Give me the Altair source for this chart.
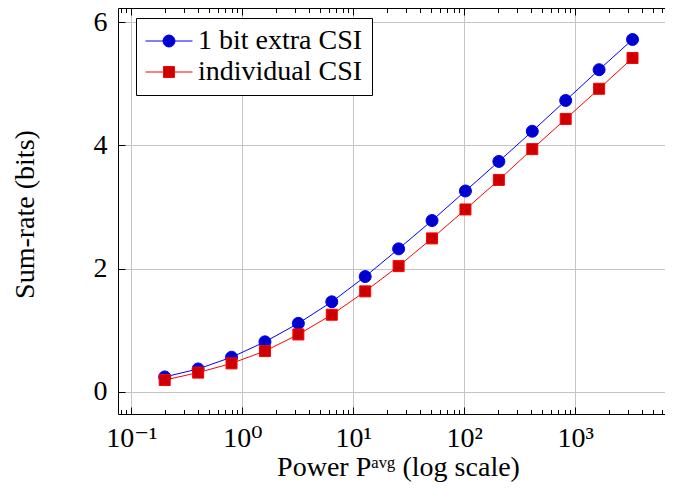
import altair as alt
import pandas as pd

# ---- data ----
power = [0.2, 0.4, 0.8, 1.6, 3.2, 6.4, 12.8, 25.6, 51.2, 102.4, 204.8, 409.6, 819.2, 1638.4, 3276.8]
rate_extra = [0.24, 0.37, 0.56, 0.81, 1.11, 1.46, 1.87, 2.32, 2.78, 3.26, 3.74, 4.23, 4.73, 5.23, 5.72]
rate_indiv = [0.19, 0.31, 0.46, 0.66, 0.93, 1.25, 1.63, 2.04, 2.49, 2.96, 3.44, 3.94, 4.43, 4.92, 5.42]
series_names = ["1 bit extra CSI", "individual CSI"]

major_x = [0.1, 1, 10, 100, 1000]
minor_mult = [2, 3, 4, 5, 6, 7, 8, 9]
minor_decades = [0.01, 0.1, 1, 10, 100, 1000]
y_ticks = [0, 2, 4, 6]

X_DOMAIN = [0.0759, 7432]
Y_DOMAIN = [-0.362, 6.232]

minor_x = [m * d for d in minor_decades for m in minor_mult if X_DOMAIN[0] <= m * d <= X_DOMAIN[1]]

df = pd.DataFrame({
    "x": power + power,
    "y": rate_extra + rate_indiv,
    "series": [series_names[0]] * len(power) + [series_names[1]] * len(power),
})

F = "Liberation Serif, DejaVu Serif, serif"
FS = 28
GRID = "#c4c4c4"

xs = alt.Scale(type="log", domain=X_DOMAIN, nice=False)
ys = alt.Scale(domain=Y_DOMAIN, nice=False, zero=False)

ax_x_main = alt.Axis(orient="bottom", values=major_x,
                     labelExpr="'10' + ['⁻¹','⁰','¹','²','³'][round(log(datum.value)/LN10)+1]",
                     grid=True, gridColor=GRID, gridWidth=1, ticks=False,
                     domain=True, domainColor="black", domainWidth=1,
                     labelFont=F, labelFontSize=FS, labelColor="black", labelPadding=10,
                     labelFlush=False, labelOverlap=False,
                     title="Power Pᵃᵛᵍ (log scale)", titleFont=F, titleFontSize=FS,
                     titleFontWeight="normal", titleColor="black",
                     titleX=280, titleY=61, titleAlign="center", titleBaseline="alphabetic",
                     zindex=0)
ax_x_major_b = alt.Axis(orient="bottom", values=major_x, labels=False, domain=False, grid=False,
                        ticks=True, tickSize=7, tickColor="black", tickWidth=1, offset=-7,
                        title=None, zindex=1)
ax_x_minor_b = alt.Axis(orient="bottom", values=minor_x, labels=False, domain=False, grid=False,
                        ticks=True, tickSize=4.5, tickColor="black", tickWidth=1, offset=-4.5,
                        title=None, zindex=1)
ax_x_top = alt.Axis(orient="top", labels=False, domain=True, domainColor="black", domainWidth=1,
                    grid=False, ticks=False, title=None, zindex=1)
ax_x_major_t = alt.Axis(orient="top", values=major_x, labels=False, domain=False, grid=False,
                        ticks=True, tickSize=7, tickColor="black", tickWidth=1, offset=-7,
                        title=None, zindex=1)
ax_x_minor_t = alt.Axis(orient="top", values=minor_x, labels=False, domain=False, grid=False,
                        ticks=True, tickSize=4.5, tickColor="black", tickWidth=1, offset=-4.5,
                        title=None, zindex=1)

ax_y_main = alt.Axis(orient="left", values=y_ticks, grid=True, gridColor=GRID, gridWidth=1,
                     ticks=False, domain=True, domainColor="black", domainWidth=1,
                     labelFont=F, labelFontSize=FS, labelColor="black", labelPadding=11,
                     labelFlush=False,
                     title="Sum-rate (bits)", titleFont=F, titleFontSize=FS,
                     titleFontWeight="normal", titleColor="black",
                     titleX=-85, titleY=206, titleAngle=270, titleAlign="center",
                     titleBaseline="alphabetic", zindex=0)
ax_y_ticks_l = alt.Axis(orient="left", values=y_ticks, labels=False, domain=False, grid=False,
                        ticks=True, tickSize=7, tickColor="black", tickWidth=1, offset=-7,
                        title=None, zindex=1)
ax_y_ticks_r = alt.Axis(orient="right", values=y_ticks, labels=False, domain=False, grid=False,
                        ticks=True, tickSize=7, tickColor="black", tickWidth=1, offset=-7,
                        title=None, zindex=1)

base = alt.Chart(df)
is_a = alt.datum.series == series_names[0]
is_b = alt.datum.series == series_names[1]

line_a = base.transform_filter(is_a).mark_line(color="#0000ff", strokeWidth=1).encode(
    x=alt.X("x:Q", scale=xs, axis=ax_x_main),
    y=alt.Y("y:Q", scale=ys, axis=ax_y_main),
)
pts_a = base.transform_filter(is_a).mark_circle(size=144, color="#0000cc", stroke="#0000ff",
                                                strokeWidth=1, opacity=1).encode(
    x=alt.X("x:Q", scale=xs, axis=ax_x_major_b),
    y=alt.Y("y:Q", scale=ys, axis=ax_y_ticks_l),
)
line_b = base.transform_filter(is_b).mark_line(color="#ff0000", strokeWidth=1).encode(
    x=alt.X("x:Q", scale=xs, axis=ax_x_minor_b),
    y=alt.Y("y:Q", scale=ys, axis=ax_y_ticks_r),
)
pts_b = base.transform_filter(is_b).mark_square(size=121, color="#cc0000", stroke="#ff0000",
                                                strokeWidth=1, opacity=1).encode(
    x=alt.X("x:Q", scale=xs, axis=ax_x_top),
    y=alt.Y("y:Q", scale=ys, axis=None),
)

# legend: line + marker symbols
circ_path = ("M-1,0H-0.255M0.255,0H1M-0.255,0A0.255,0.255,0,1,1,0.255,0"
             "A0.255,0.255,0,1,1,-0.255,0Z")
sq_path = "M-1,0H-0.234M0.234,0H1M-0.234,-0.234H0.234V0.234H-0.234Z"

leg = alt.Legend(orient="none", legendX=18, legendY=10, title=None, padding=9,
                 strokeColor="black", fillColor="white", cornerRadius=0,
                 labelFont=F, labelFontSize=FS, labelColor="black", labelLimit=400,
                 labelExpr="datum.label + '\u00a0\u00a0\u00a0\u2009'",
                 labelOffset=5, symbolSize=2209, symbolStrokeWidth=1,
                 clipHeight=28, rowPadding=3, symbolOffset=0, offset=0)

legend_layer = base.transform_filter("datum.x < 0").mark_point(
    filled=True, strokeWidth=1, opacity=1).encode(
    x=alt.X("x:Q", scale=xs, axis=ax_x_major_t),
    y=alt.Y("y:Q", scale=ys, axis=None),
    fill=alt.Fill("series:N", scale=alt.Scale(domain=series_names, range=["#0000cc", "#cc0000"]), legend=leg),
    stroke=alt.Stroke("series:N", scale=alt.Scale(domain=series_names, range=["#0000ff", "#ff0000"]), legend=leg),
    shape=alt.Shape("series:N", scale=alt.Scale(domain=series_names, range=[circ_path, sq_path]), legend=leg),
)

dummy = base.transform_filter("datum.x < 0").mark_point(opacity=0).encode(
    x=alt.X("x:Q", scale=xs, axis=ax_x_minor_t),
    y=alt.Y("y:Q", scale=ys, axis=None),
)

chart = alt.layer(line_a, pts_a, line_b, pts_b, legend_layer, dummy).resolve_axis(
    x="independent", y="independent"
).properties(
    width=554, height=406,
    padding={"left": 110, "top": 0, "right": -7, "bottom": 72},
    autosize=alt.AutoSizeParams(type="none"),
    background="white",
).configure_view(stroke="transparent")

chart.save("out.html", embed_options={"renderer": "svg", "actions": False})
